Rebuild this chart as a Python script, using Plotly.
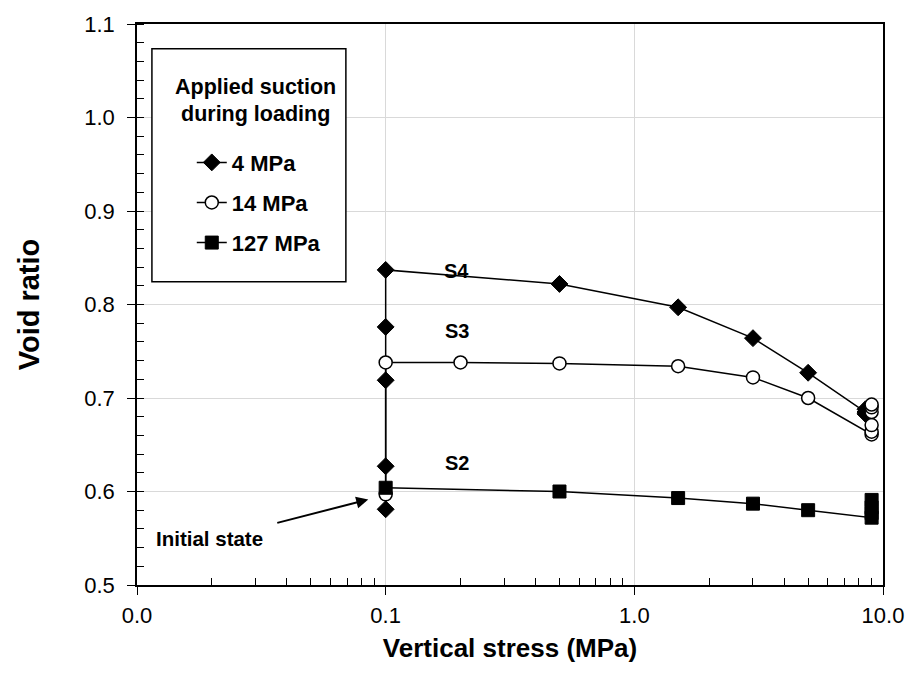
import math
import plotly.graph_objects as go

# ---- data ----
s4_stress = [0.1, 0.1, 0.1, 0.1, 0.1, 0.5, 1.5, 3.0, 5.0, 8.5, 8.5, 8.5]
s4_void = [0.581, 0.627, 0.719, 0.776, 0.837, 0.822, 0.797, 0.764, 0.727, 0.685, 0.683, 0.688]

s3_stress = [0.1, 0.1, 0.2, 0.5, 1.5, 3.0, 5.0, 9.0, 9.0, 9.0, 9.0, 9.0, 9.0]
s3_void = [0.597, 0.738, 0.738, 0.737, 0.734, 0.722, 0.700, 0.661, 0.664, 0.671, 0.685, 0.690, 0.693]

s2_stress = [0.1, 0.5, 1.5, 3.0, 5.0, 9.0, 9.0, 9.0, 9.0]
s2_void = [0.604, 0.600, 0.593, 0.587, 0.580, 0.572, 0.577, 0.583, 0.591]

x_tickvals = [0.01, 0.1, 1, 10]
x_ticktext = ["0.0", "0.1", "1.0", "10.0"]
x_minor = [m * 10 ** e for e in (-2, -1, 0) for m in range(2, 10)]

series_names = ["4 MPa", "14 MPa", "127 MPa"]
curve_labels = ["S4", "S3", "S2"]
curve_label_pos = [(0.193, 0.836), (0.193, 0.772), (0.193, 0.630)]

FONT = "Liberation Sans, Arial, sans-serif"

fig = go.Figure()
fig.add_trace(go.Scatter(
    x=s4_stress, y=s4_void, mode="lines+markers", name="<b>" + series_names[0] + "</b>",
    legendgroup="a",
    line=dict(color="black", width=1.5),
    marker=dict(symbol="diamond", size=13, color="black", line=dict(color="black", width=1)),
))
fig.add_trace(go.Scatter(
    x=s3_stress, y=s3_void, mode="lines+markers", name="<b>" + series_names[1] + "</b>",
    legendgroup="b",
    line=dict(color="black", width=1.5),
    marker=dict(symbol="circle", size=13, color="white", line=dict(color="black", width=1.5)),
))
fig.add_trace(go.Scatter(
    x=s2_stress, y=s2_void, mode="lines+markers", name="<b>" + series_names[2] + "</b>",
    legendgroup="c",
    line=dict(color="black", width=1.5),
    marker=dict(symbol="square", size=13, color="black", line=dict(color="black", width=1)),
))

axis_common = dict(
    showline=True, linecolor="black", linewidth=1.5, mirror=True,
    ticks="outside", ticklen=8, tickwidth=1.2, tickcolor="black",
    showgrid=True, gridcolor="#d9d9d9", gridwidth=1,
    zeroline=False,
    tickfont=dict(family=FONT, size=22, color="black"),
)

fig.update_xaxes(
    type="log", range=[-2, 1],
    tickmode="array", tickvals=x_tickvals, ticktext=x_ticktext,
    minor=dict(tickmode="array", tickvals=x_minor, ticks="inside", ticklen=7,
               tickwidth=1.2, tickcolor="black", showgrid=False),
    title=dict(text="<b>Vertical stress (MPa)</b>", font=dict(family=FONT, size=26, color="black"),
               standoff=12),
    ticklabelstandoff=2,
    **axis_common,
)
fig.update_yaxes(
    range=[0.5, 1.1], dtick=0.1, tick0=0.5, tickformat=".1f",
    minor=dict(dtick=0.02, ticks="inside", ticklen=7, tickwidth=1.2, tickcolor="black", showgrid=False),
    title=dict(text="<b>Void ratio</b>", font=dict(family=FONT, size=29, color="black"),
               standoff=36),
    ticklabelstandoff=8,
    **axis_common,
)

# legend box
fig.add_shape(type="rect", xref="paper", yref="paper", x0=0.020, x1=0.280, y0=0.5405, y1=0.956,
              line=dict(color="black", width=1.5), fillcolor="white", layer="above")

annotations = [
    dict(text="<b>Applied suction</b>", x=(256 - 137) / 749, y=1 - (85 - 22) / 563,
         xref="paper", yref="paper", xanchor="center", yanchor="middle",
         showarrow=False, font=dict(family=FONT, size=21.5, color="black")),
    dict(text="<b>during loading</b>", x=(256 - 137) / 749, y=1 - (112 - 22) / 563,
         xref="paper", yref="paper", xanchor="center", yanchor="middle",
         showarrow=False, font=dict(family=FONT, size=21.5, color="black")),
]
for lab, (lx, ly) in zip(curve_labels, curve_label_pos):
    annotations.append(dict(text="<b>" + lab + "</b>", x=math.log10(lx), y=ly,
                            xref="x", yref="y", showarrow=False, xanchor="center",
                            font=dict(family=FONT, size=20, color="black")))
annotations.append(dict(text="<b>Initial state</b>", x=-1.71, y=0.55, xref="x", yref="y",
                        showarrow=False, xanchor="center",
                        font=dict(family=FONT, size=20.5, color="black")))
annotations.append(dict(text="", x=-1.07, y=0.5915, ax=-1.442, ay=0.566, xref="x", yref="y",
                        axref="x", ayref="y", showarrow=True, arrowhead=2, arrowsize=1.2,
                        arrowwidth=2, arrowcolor="black"))

fig.update_layout(
    width=916, height=682,
    margin=dict(l=137, r=30, t=22, b=97),
    plot_bgcolor="white", paper_bgcolor="white",
    font=dict(family=FONT, color="black"),
    showlegend=True,
    legend=dict(x=(192 - 137) / 749, y=1 - (140 - 22) / 563, xanchor="left", yanchor="top",
                bgcolor="rgba(0,0,0,0)", borderwidth=0, tracegroupgap=8.5,
                font=dict(family=FONT, size=22, color="black"), traceorder="grouped"),
    annotations=annotations,
)

fig.write_html("out.html")
